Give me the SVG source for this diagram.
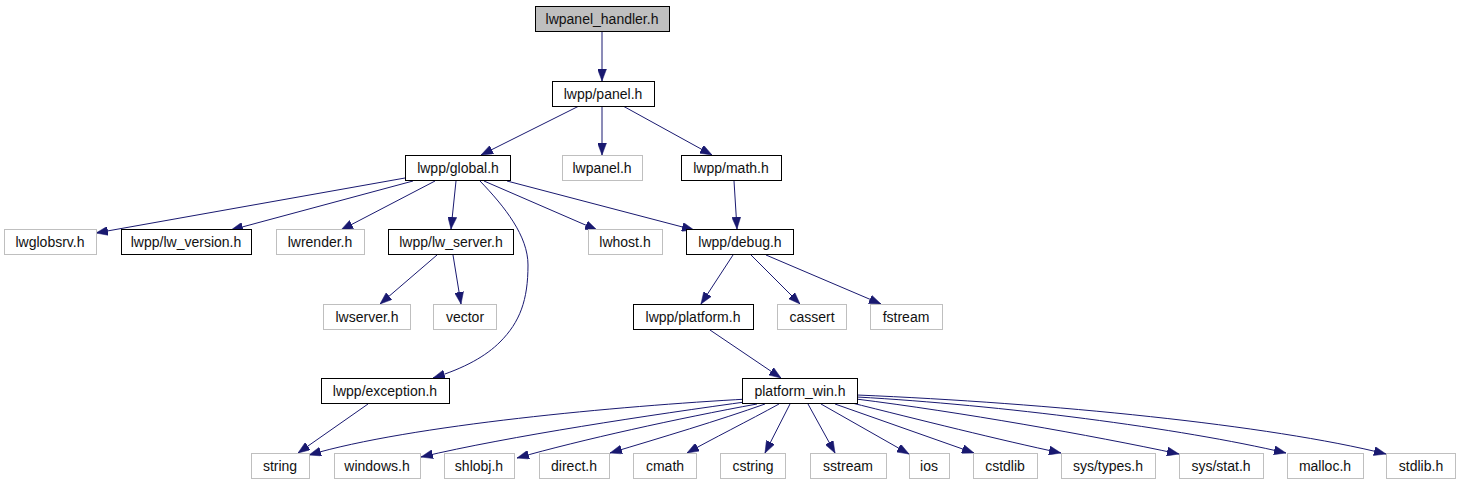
<svg xmlns="http://www.w3.org/2000/svg" width="1460" height="485" viewBox="0 0 1460 485">
<style>
.n rect{fill:#fff;stroke:#000;stroke-width:1}
.g rect{fill:#fff;stroke:#bfbfbf;stroke-width:1}
.root rect{fill:#bfbfbf;stroke:#000;stroke-width:1}
text{font-family:"Liberation Sans",Arial,sans-serif;font-size:14px;fill:#111;text-anchor:middle}
#edges path{fill:none;stroke:#191970;stroke-width:1}
</style>
<defs>
<marker id="ah" viewBox="0 0 12 9" refX="12" refY="4.5" markerWidth="12" markerHeight="9" markerUnits="userSpaceOnUse" orient="auto">
<path d="M0,0 L12,4.5 L0,9 z" fill="#191970" stroke="#191970" stroke-width="0.5"/>
</marker>
</defs>
<rect width="1460" height="485" fill="#fff"/>
<g id="edges">
<path d="M602,31 L602,81" marker-end="url(#ah)"/>
<path d="M579,106 L481,155" marker-end="url(#ah)"/>
<path d="M602,106 L602,155" marker-end="url(#ah)"/>
<path d="M623,106 L712,155" marker-end="url(#ah)"/>
<path d="M734,181 L737,229" marker-end="url(#ah)"/>
<path d="M405,178 L96,233" marker-end="url(#ah)"/>
<path d="M413,181 L231,230" marker-end="url(#ah)"/>
<path d="M435,181 L341,230" marker-end="url(#ah)"/>
<path d="M456,181 L451,229" marker-end="url(#ah)"/>
<path d="M480,181 C505,207 528,236 528,265 C528,300 520,322 500,342 C486,356 465,368 433,378" marker-end="url(#ah)"/>
<path d="M484,181 L597,230" marker-end="url(#ah)"/>
<path d="M507,181 L694,230" marker-end="url(#ah)"/>
<path d="M437,255 L380,304" marker-end="url(#ah)"/>
<path d="M453,255 L461,304" marker-end="url(#ah)"/>
<path d="M733,255 L701,304" marker-end="url(#ah)"/>
<path d="M751,255 L800,304" marker-end="url(#ah)"/>
<path d="M766,255 L881,304" marker-end="url(#ah)"/>
<path d="M710,330 L781,378" marker-end="url(#ah)"/>
<path d="M368,404 L298,453" marker-end="url(#ah)"/>
<path d="M748,399 C620,406 410,425 309,455" marker-end="url(#ah)"/>
<path d="M752,401 C650,415 510,436 421,457" marker-end="url(#ah)"/>
<path d="M757,404 C680,418 580,440 517,458" marker-end="url(#ah)"/>
<path d="M765,404 C720,420 660,438 610,453" marker-end="url(#ah)"/>
<path d="M779,404 C750,420 710,440 687,453" marker-end="url(#ah)"/>
<path d="M790,404 L765,453" marker-end="url(#ah)"/>
<path d="M808,404 L835,453" marker-end="url(#ah)"/>
<path d="M821,404 L909,454" marker-end="url(#ah)"/>
<path d="M835,404 L974,453" marker-end="url(#ah)"/>
<path d="M848,402 C920,420 1000,440 1061,453" marker-end="url(#ah)"/>
<path d="M856,399 C960,412 1090,435 1179,454" marker-end="url(#ah)"/>
<path d="M857,397 C1000,405 1180,428 1286,453" marker-end="url(#ah)"/>
<path d="M857,395 C1050,403 1270,425 1386,454" marker-end="url(#ah)"/>
</g>
<g id="n_handler" class="root"><rect x="535.5" y="6.5" width="134" height="25"/><text x="602" y="23.5">lwpanel_handler.h</text></g>
<g id="n_panel" class="n"><rect x="552.5" y="81.5" width="102" height="25"/><text x="603" y="98.5">lwpp/panel.h</text></g>
<g id="n_global" class="n"><rect x="405.5" y="155.5" width="105" height="25"/><text x="458" y="172.5">lwpp/global.h</text></g>
<g id="n_lwpanel" class="g"><rect x="562.5" y="155.5" width="80" height="25"/><text x="602" y="172.5">lwpanel.h</text></g>
<g id="n_math" class="n"><rect x="681.5" y="155.5" width="100" height="25"/><text x="731" y="172.5">lwpp/math.h</text></g>
<g id="n_lwglobsrv" class="g"><rect x="4.5" y="229.5" width="92" height="25"/><text x="50" y="246.5">lwglobsrv.h</text></g>
<g id="n_lwversion" class="n"><rect x="121.5" y="229.5" width="130" height="25"/><text x="186" y="246.5">lwpp/lw_version.h</text></g>
<g id="n_lwrender" class="g"><rect x="276.5" y="229.5" width="88" height="25"/><text x="320" y="246.5">lwrender.h</text></g>
<g id="n_lwserverpp" class="n"><rect x="388.5" y="229.5" width="125" height="25"/><text x="451" y="246.5">lwpp/lw_server.h</text></g>
<g id="n_lwhost" class="g"><rect x="588.5" y="229.5" width="74" height="25"/><text x="625" y="246.5">lwhost.h</text></g>
<g id="n_debug" class="n"><rect x="686.5" y="229.5" width="107" height="25"/><text x="740" y="246.5">lwpp/debug.h</text></g>
<g id="n_lwserver" class="g"><rect x="323.5" y="304.5" width="87" height="25"/><text x="367" y="321.5">lwserver.h</text></g>
<g id="n_vector" class="g"><rect x="433.5" y="304.5" width="63" height="25"/><text x="465" y="321.5">vector</text></g>
<g id="n_platform" class="n"><rect x="633.5" y="304.5" width="120" height="25"/><text x="693" y="321.5">lwpp/platform.h</text></g>
<g id="n_cassert" class="g"><rect x="777.5" y="304.5" width="69" height="25"/><text x="812" y="321.5">cassert</text></g>
<g id="n_fstream" class="g"><rect x="870.5" y="304.5" width="72" height="25"/><text x="906" y="321.5">fstream</text></g>
<g id="n_exception" class="n"><rect x="321.5" y="378.5" width="128" height="25"/><text x="385" y="395.5">lwpp/exception.h</text></g>
<g id="n_platformwin" class="n"><rect x="742.5" y="378.5" width="115" height="25"/><text x="800" y="395.5">platform_win.h</text></g>
<g id="n_string" class="g"><rect x="251.5" y="453.5" width="58" height="25"/><text x="280" y="470.5">string</text></g>
<g id="n_windows" class="g"><rect x="334.5" y="453.5" width="86" height="25"/><text x="377" y="470.5">windows.h</text></g>
<g id="n_shlobj" class="g"><rect x="444.5" y="453.5" width="70" height="25"/><text x="479" y="470.5">shlobj.h</text></g>
<g id="n_direct" class="g"><rect x="539.5" y="453.5" width="70" height="25"/><text x="574" y="470.5">direct.h</text></g>
<g id="n_cmath" class="g"><rect x="633.5" y="453.5" width="63" height="25"/><text x="665" y="470.5">cmath</text></g>
<g id="n_cstring" class="g"><rect x="720.5" y="453.5" width="65" height="25"/><text x="753" y="470.5">cstring</text></g>
<g id="n_sstream" class="g"><rect x="810.5" y="453.5" width="76" height="25"/><text x="848" y="470.5">sstream</text></g>
<g id="n_ios" class="g"><rect x="909.5" y="453.5" width="40" height="25"/><text x="929" y="470.5">ios</text></g>
<g id="n_cstdlib" class="g"><rect x="973.5" y="453.5" width="64" height="25"/><text x="1005" y="470.5">cstdlib</text></g>
<g id="n_systypes" class="g"><rect x="1061.5" y="453.5" width="94" height="25"/><text x="1108" y="470.5">sys/types.h</text></g>
<g id="n_sysstat" class="g"><rect x="1179.5" y="453.5" width="84" height="25"/><text x="1221" y="470.5">sys/stat.h</text></g>
<g id="n_malloc" class="g"><rect x="1287.5" y="453.5" width="76" height="25"/><text x="1325" y="470.5">malloc.h</text></g>
<g id="n_stdlib" class="g"><rect x="1386.5" y="453.5" width="69" height="25"/><text x="1421" y="470.5">stdlib.h</text></g>
</svg>
